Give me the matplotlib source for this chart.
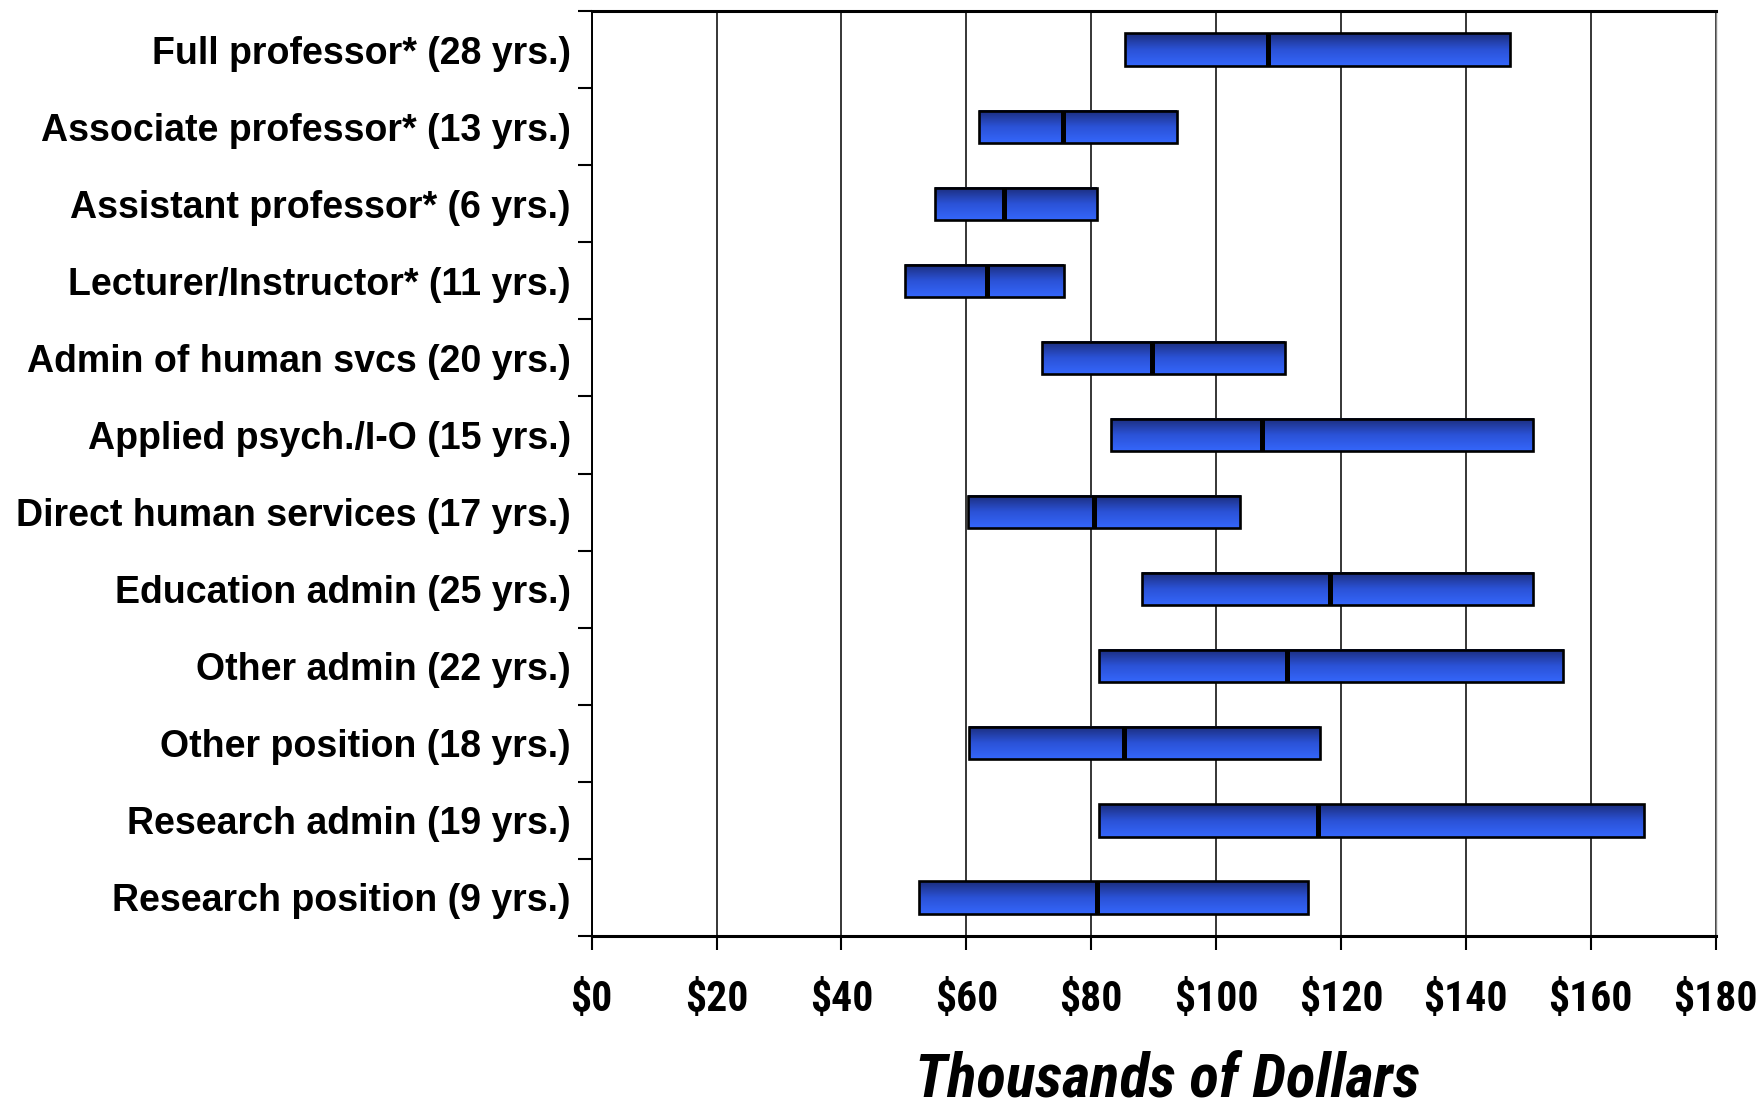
import matplotlib
matplotlib.use("Agg")
import matplotlib.pyplot as plt
from matplotlib.colors import LinearSegmentedColormap
from matplotlib.patches import Rectangle
import numpy as np

# salary ranges in thousands of dollars (25th pct, median, 75th pct)
labels = ["Full professor* (28 yrs.)", "Associate professor* (13 yrs.)",
          "Assistant professor* (6 yrs.)", "Lecturer/Instructor* (11 yrs.)",
          "Admin of human svcs (20 yrs.)", "Applied psych./I-O (15 yrs.)",
          "Direct human services (17 yrs.)", "Education admin (25 yrs.)",
          "Other admin (22 yrs.)", "Other position (18 yrs.)",
          "Research admin (19 yrs.)", "Research position (9 yrs.)"]
low = [85.4, 62.1, 55.0, 50.2, 72.2, 83.2, 60.2, 88.1, 81.2, 60.5, 81.2, 52.5]
median = [108.3, 75.5, 66.0, 63.3, 89.8, 107.4, 80.4, 118.3, 111.4, 85.3, 116.3, 81.0]
high = [147.1, 93.7, 80.9, 75.6, 111.1, 150.8, 103.8, 150.8, 155.6, 116.6, 168.5, 114.8]
xticks = list(range(0, 181, 20))

narrow = ["Roboto Condensed", "Liberation Sans", "DejaVu Sans"]
plt.rcParams['font.family'] = ["Liberation Sans", "DejaVu Sans"]

fig = plt.figure(figsize=(17.63, 11.12), dpi=100)
ax = fig.add_axes([0.3356, 0.1583, 0.6375, 0.8317])

cmap = LinearSegmentedColormap.from_list("bar", ["#3466fb", "#2b52d6", "#1b2d7c"])
grad = np.linspace(0, 1, 64).reshape(-1, 1)

n = len(labels)
ys = np.arange(n)[::-1]
h = 0.42
for y, lo, md, hi in zip(ys, low, median, high):
    ax.imshow(grad, extent=(lo, hi, y + h / 2, y - h / 2), cmap=cmap,
              aspect='auto', zorder=2, interpolation='bilinear')
    ax.add_patch(Rectangle((lo, y - h / 2), hi - lo, h, fill=False,
                           edgecolor='black', lw=1.9, zorder=3))
    ax.plot([md, md], [y - h / 2, y + h / 2], color='black', lw=3.6,
            solid_capstyle='butt', zorder=4)

ax.set_xlim(0, 180)
ax.set_ylim(-0.5, n - 0.5)
ax.set_xticks(xticks)
ax.set_xticklabels(["$%d" % v for v in xticks], family=narrow,
                   fontweight='bold', fontsize=30)
ax.set_yticks(ys)
ax.set_yticklabels(labels, fontweight='bold', fontsize=27)
ax.set_yticks(np.arange(n + 1) - 0.5, minor=True)
ax.tick_params(axis='y', which='major', length=0, pad=15)
ax.tick_params(axis='y', which='minor', length=10, width=1.5, direction='out')
ax.tick_params(axis='x', length=10, width=1.5, direction='out', pad=21)

ax.grid(axis='x', color='black', lw=1.1, zorder=1)
ax.set_axisbelow(True)
for side in ['top', 'bottom']:
    ax.spines[side].set_linewidth(2.2)
ax.spines['left'].set_linewidth(1.4)
ax.spines['right'].set_linewidth(1.0)
ax.spines['right'].set_color('#888888')

ax.set_xlabel("Thousands of Dollars", family=narrow, fontweight='bold',
              fontstyle='italic', fontsize=44, labelpad=22)
ax.xaxis.label.set_x(0.512)

fig.savefig("out.png", dpi=100)
